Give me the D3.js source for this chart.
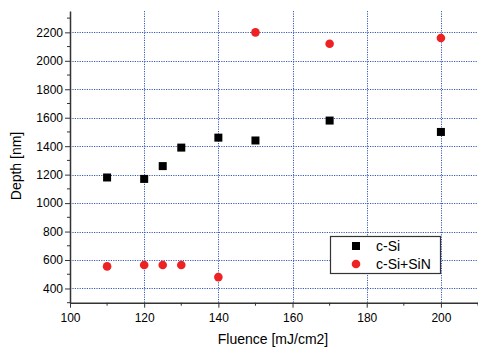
<!DOCTYPE html>
<html><head><meta charset="utf-8">
<script src="https://cdn.jsdelivr.net/npm/d3@7"></script>
<style>body{margin:0;background:#fff}svg{display:block}text{font-family:Arial,"Liberation Sans",sans-serif;fill:#000}</style>
</head><body><svg id="c" width="478" height="347"></svg>
<script>
const fluence = [110, 120, 125, 130, 140, 150, 170, 200];
const depthCSi = [1180, 1170, 1260, 1390, 1460, 1440, 1580, 1500];
const depthCSiSiN = [555, 565, 565, 565, 480, 2200, 2120, 2160];
const seriesNames = ["c-Si", "c-Si+SiN"];
const xTicks = [100, 120, 140, 160, 180, 200];
const yTicks = [400, 600, 800, 1000, 1200, 1400, 1600, 1800, 2000, 2200];

const svg = d3.select("#c");
const x = d3.scaleLinear().domain([100, 210]).range([70, 478]);
const y = d3.scaleLinear().domain([300, 2350]).range([302.7, 11]);

// grid
const grid = svg.append("g").attr("stroke", "#3a5cb8").attr("stroke-width", 1).attr("stroke-dasharray", "1.2,1.2");
grid.selectAll("line.h").data(yTicks).enter().append("line")
  .attr("x1", 70).attr("x2", 478).attr("y1", d => Math.round(y(d)) + 0.5).attr("y2", d => Math.round(y(d)) + 0.5);
grid.selectAll("line.v").data(xTicks.filter(d => d > 100)).enter().append("line")
  .attr("y1", y(2350)).attr("y2", y(300)).attr("x1", d => Math.round(x(d)) + 0.5).attr("x2", d => Math.round(x(d)) + 0.5);

// axes
const xMinor = d3.range(110, 211, 20);
const yMinor = d3.range(300, 2350, 200);
const axG = svg.append("g");
const xAx = axG.append("g").attr("transform", `translate(0,${y(300)})`)
  .call(d3.axisBottom(x).tickValues(xTicks).tickSize(5).tickSizeOuter(0).tickFormat(d3.format("d")));
xAx.selectAll(".tick text").attr("font-size", 12).attr("dy", "0.95em").attr("font-family", "Arial, 'Liberation Sans', sans-serif");
xAx.append("g").selectAll("line").data(xMinor).enter().append("line")
  .attr("x1", d => x(d)).attr("x2", d => x(d)).attr("y1", 0).attr("y2", 3).attr("stroke", "#333");
const yAx = axG.append("g").attr("transform", `translate(70,0)`)
  .call(d3.axisLeft(y).tickValues(yTicks).tickSize(5).tickSizeOuter(0).tickFormat(d3.format("d")));
yAx.selectAll(".tick text").attr("font-size", 12).attr("x", -7).attr("font-family", "Arial, 'Liberation Sans', sans-serif");
yAx.append("g").selectAll("line").data(yMinor).enter().append("line")
  .attr("y1", d => y(d)).attr("y2", d => y(d)).attr("x1", 0).attr("x2", -3).attr("stroke", "#333");
axG.selectAll(".domain").attr("stroke", "#333").attr("stroke-width", 1.5);
axG.selectAll(".tick line").attr("stroke", "#333");
axG.selectAll("text").attr("fill", "#000");

// titles
svg.append("text").attr("x", 273).attr("y", 344).attr("text-anchor", "middle").attr("font-size", 14).text("Fluence [mJ/cm2]");
svg.append("text").attr("transform", "translate(21,166) rotate(-90)").attr("text-anchor", "middle").attr("font-size", 14).text("Depth [nm]");

// data
const pts = fluence.map((f, i) => ({f, a: depthCSi[i], b: depthCSiSiN[i]}));
svg.append("g").selectAll("rect").data(pts).enter().append("rect")
  .attr("x", d => x(d.f) - 4).attr("y", d => y(d.a) - 4).attr("width", 8).attr("height", 8).attr("fill", "#000");
svg.append("g").selectAll("circle").data(pts).enter().append("circle")
  .attr("cx", d => x(d.f)).attr("cy", d => y(d.b)).attr("r", 4.3).attr("fill", "#ee2222");

// legend
const lg = svg.append("g");
lg.append("rect").attr("x", 330.5).attr("y", 236.5).attr("width", 110).attr("height", 37).attr("fill", "#fff").attr("stroke", "#333").attr("stroke-width", 1.2);
lg.append("rect").attr("x", 352).attr("y", 242).attr("width", 8).attr("height", 8).attr("fill", "#000");
lg.append("circle").attr("cx", 356).attr("cy", 264).attr("r", 4.3).attr("fill", "#ee2222");
lg.selectAll("text").data(seriesNames).enter().append("text")
  .attr("x", 376).attr("y", (d, i) => 251 + i * 18).attr("font-size", 14).text(d => d);
</script></body></html>
